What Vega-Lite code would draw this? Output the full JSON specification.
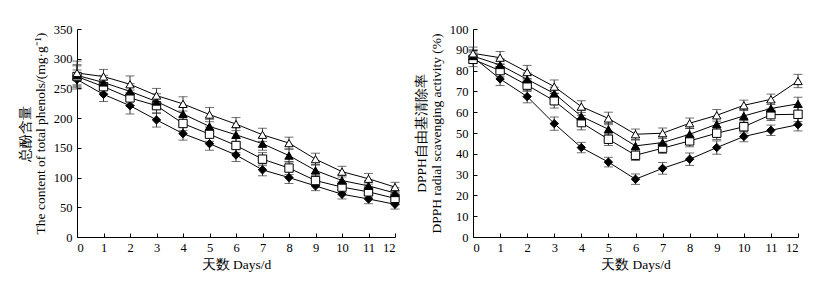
{
  "$schema": "https://vega.github.io/schema/vega-lite/v6.json",
  "padding": {"left": 18, "top": 23, "right": 10, "bottom": 5},
  "spacing": 12,
  "background": "white",
  "config": {
    "font": "Liberation Serif",
    "view": {"stroke": null},
    "axis": {
      "grid": false,
      "domainColor": "black",
      "tickColor": "black",
      "labelColor": "black",
      "titleColor": "black",
      "labelFont": "Liberation Serif",
      "titleFont": "Liberation Serif",
      "labelFontSize": 12.5,
      "titleFontSize": 13.5,
      "titleFontWeight": "normal",
      "tickSize": -4,
      "domainWidth": 1,
      "tickWidth": 1
    },
    "axisX": {"labelPadding": 8, "titlePadding": 4},
    "axisY": {"labelPadding": 9, "titlePadding": 6, "titleLineHeight": 15}
  },
  "hconcat": [
    {
      "width": 318,
      "height": 208,
      "data": {"values": [
        {"day":0,"s":"A","v":265,"e":16},{"day":1,"s":"A","v":240,"e":12},{"day":2,"s":"A","v":221,"e":14},{"day":3,"s":"A","v":197,"e":12},{"day":4,"s":"A","v":174,"e":11},{"day":5,"s":"A","v":157,"e":11},{"day":6,"s":"A","v":138,"e":11},{"day":7,"s":"A","v":113,"e":10},{"day":8,"s":"A","v":100,"e":10},{"day":9,"s":"A","v":86,"e":8},{"day":10,"s":"A","v":72,"e":8},{"day":11,"s":"A","v":64,"e":8},{"day":12,"s":"A","v":55,"e":8},
        {"day":0,"s":"B","v":270,"e":18},{"day":1,"s":"B","v":253,"e":12},{"day":2,"s":"B","v":234,"e":13},{"day":3,"s":"B","v":221,"e":13},{"day":4,"s":"B","v":191,"e":12},{"day":5,"s":"B","v":173,"e":12},{"day":6,"s":"B","v":154,"e":12},{"day":7,"s":"B","v":131,"e":11},{"day":8,"s":"B","v":116,"e":11},{"day":9,"s":"B","v":95,"e":9},{"day":10,"s":"B","v":84,"e":9},{"day":11,"s":"B","v":76,"e":9},{"day":12,"s":"B","v":65,"e":9},
        {"day":0,"s":"C","v":272,"e":18},{"day":1,"s":"C","v":260,"e":12},{"day":2,"s":"C","v":245,"e":13},{"day":3,"s":"C","v":228,"e":13},{"day":4,"s":"C","v":207,"e":12},{"day":5,"s":"C","v":186,"e":12},{"day":6,"s":"C","v":172,"e":12},{"day":7,"s":"C","v":157,"e":11},{"day":8,"s":"C","v":137,"e":11},{"day":9,"s":"C","v":112,"e":10},{"day":10,"s":"C","v":95,"e":9},{"day":11,"s":"C","v":86,"e":9},{"day":12,"s":"C","v":74,"e":9},
        {"day":0,"s":"D","v":276,"e":20},{"day":1,"s":"D","v":270,"e":12},{"day":2,"s":"D","v":257,"e":14},{"day":3,"s":"D","v":238,"e":12},{"day":4,"s":"D","v":224,"e":12},{"day":5,"s":"D","v":206,"e":12},{"day":6,"s":"D","v":190,"e":11},{"day":7,"s":"D","v":172,"e":11},{"day":8,"s":"D","v":158,"e":10},{"day":9,"s":"D","v":131,"e":10},{"day":10,"s":"D","v":110,"e":9},{"day":11,"s":"D","v":98,"e":9},{"day":12,"s":"D","v":84,"e":8}
      ]},
      "encoding": {
        "x": {"field": "day", "type": "quantitative", "scale": {"domain": [0, 12], "nice": false},
              "axis": {"values": [0,1,2,3,4,5,6,7,8,9,10,11,12], "title": "天数 Days/d"}},
        "y": {"field": "v", "type": "quantitative", "scale": {"domain": [0, 350], "nice": false},
              "axis": {"values": [0,50,100,150,200,250,300,350], "title": ["总酚含量", "The content of total phenols/(mg·g⁻¹)"]}}
      },
      "layer": [
        {"mark": {"type": "line", "color": "black", "strokeWidth": 1}, "encoding": {"detail": {"field": "s"}}},
        {"mark": {"type": "errorbar", "ticks": {"size": 9, "color": "#333"}, "rule": {"color": "#333"}},
         "encoding": {"yError": {"field": "e"}, "detail": {"field": "s"}}},
        {"mark": {"type": "point", "filled": false, "opacity": 1, "strokeWidth": 1, "stroke": "black"},
         "encoding": {
           "shape": {"field": "s", "type": "nominal", "legend": null, "scale": {"domain": ["A","B","C","D"], "range": ["diamond","square","triangle-up","triangle-up"]}},
           "fill": {"field": "s", "type": "nominal", "legend": null, "scale": {"domain": ["A","B","C","D"], "range": ["black","white","black","white"]}},
           "size": {"value": 70}
         }}
      ]
    },
    {
      "width": 325,
      "height": 208,
      "data": {"values": [
        {"day":0,"s":"A","v":86.5,"e":3},{"day":1,"s":"A","v":76,"e":3.2},{"day":2,"s":"A","v":67.5,"e":3},{"day":3,"s":"A","v":54.5,"e":3.2},{"day":4,"s":"A","v":43,"e":2.5},{"day":5,"s":"A","v":36,"e":2.3},{"day":6,"s":"A","v":27.8,"e":2.5},{"day":7,"s":"A","v":33,"e":2.8},{"day":8,"s":"A","v":37.4,"e":3},{"day":9,"s":"A","v":43,"e":3.2},{"day":10,"s":"A","v":48.3,"e":2.5},{"day":11,"s":"A","v":51.3,"e":2.5},{"day":12,"s":"A","v":54,"e":3},
        {"day":0,"s":"B","v":85.4,"e":3.5},{"day":1,"s":"B","v":80,"e":3},{"day":2,"s":"B","v":73,"e":3},{"day":3,"s":"B","v":65.5,"e":3.5},{"day":4,"s":"B","v":55,"e":3.5},{"day":5,"s":"B","v":47,"e":3},{"day":6,"s":"B","v":39.3,"e":2.5},{"day":7,"s":"B","v":42.7,"e":2.5},{"day":8,"s":"B","v":46.2,"e":2.8},{"day":9,"s":"B","v":49.9,"e":3},{"day":10,"s":"B","v":53,"e":3},{"day":11,"s":"B","v":58.8,"e":2.8},{"day":12,"s":"B","v":59,"e":3.5},
        {"day":0,"s":"C","v":87,"e":3},{"day":1,"s":"C","v":82.7,"e":3},{"day":2,"s":"C","v":75.8,"e":3},{"day":3,"s":"C","v":69,"e":3},{"day":4,"s":"C","v":58,"e":3},{"day":5,"s":"C","v":51.8,"e":2.8},{"day":6,"s":"C","v":43.8,"e":2.8},{"day":7,"s":"C","v":45.4,"e":2.8},{"day":8,"s":"C","v":49.4,"e":2.8},{"day":9,"s":"C","v":54.2,"e":3},{"day":10,"s":"C","v":58.2,"e":3},{"day":11,"s":"C","v":61.8,"e":3},{"day":12,"s":"C","v":64,"e":3.2},
        {"day":0,"s":"D","v":88.3,"e":3},{"day":1,"s":"D","v":86.2,"e":3},{"day":2,"s":"D","v":79.3,"e":3.2},{"day":3,"s":"D","v":72.3,"e":3.2},{"day":4,"s":"D","v":62.7,"e":2.8},{"day":5,"s":"D","v":57,"e":3},{"day":6,"s":"D","v":49.4,"e":2.5},{"day":7,"s":"D","v":49.9,"e":2.5},{"day":8,"s":"D","v":54.7,"e":2.5},{"day":9,"s":"D","v":58.5,"e":2.8},{"day":10,"s":"D","v":63.3,"e":2.5},{"day":11,"s":"D","v":66.2,"e":2.5},{"day":12,"s":"D","v":75,"e":3.2}
      ]},
      "encoding": {
        "x": {"field": "day", "type": "quantitative", "scale": {"domain": [0, 12], "nice": false},
              "axis": {"values": [0,1,2,3,4,5,6,7,8,9,10,11,12], "title": "天数 Days/d"}},
        "y": {"field": "v", "type": "quantitative", "scale": {"domain": [0, 100], "nice": false},
              "axis": {"values": [0,10,20,30,40,50,60,70,80,90,100], "title": ["DPPH自由基清除率", "DPPH radial scavenging activity (%)"]}}
      },
      "layer": [
        {"mark": {"type": "line", "color": "black", "strokeWidth": 1}, "encoding": {"detail": {"field": "s"}}},
        {"mark": {"type": "errorbar", "ticks": {"size": 9, "color": "#333"}, "rule": {"color": "#333"}},
         "encoding": {"yError": {"field": "e"}, "detail": {"field": "s"}}},
        {"mark": {"type": "point", "filled": false, "opacity": 1, "strokeWidth": 1, "stroke": "black"},
         "encoding": {
           "shape": {"field": "s", "type": "nominal", "legend": null, "scale": {"domain": ["A","B","C","D"], "range": ["diamond","square","triangle-up","triangle-up"]}},
           "fill": {"field": "s", "type": "nominal", "legend": null, "scale": {"domain": ["A","B","C","D"], "range": ["black","white","black","white"]}},
           "size": {"value": 70}
         }}
      ]
    }
  ]
}
